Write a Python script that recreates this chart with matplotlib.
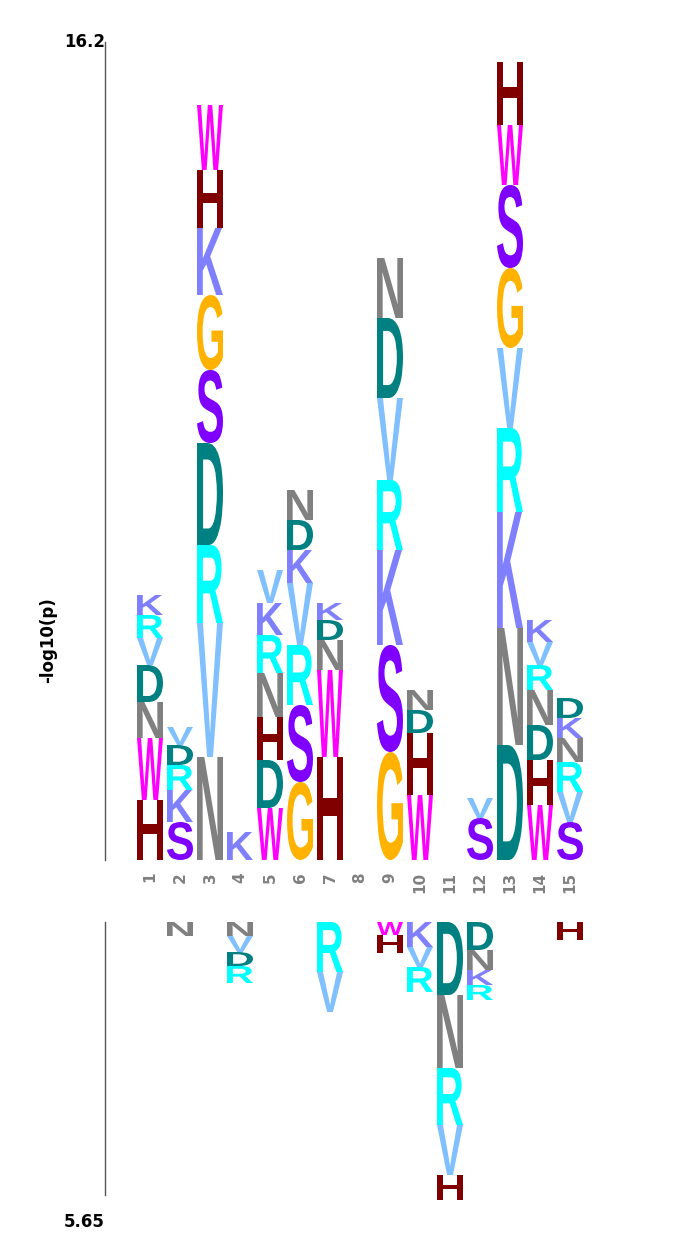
import matplotlib
matplotlib.use('Agg')
import matplotlib.pyplot as plt
from matplotlib.textpath import TextPath
from matplotlib.font_manager import FontProperties
from matplotlib.patches import PathPatch
from matplotlib.transforms import Affine2D

# letter stacks per position, (letter, height), enriched from the baseline upward
upper = {
    1: [('H', 60), ('W', 62), ('N', 36), ('D', 37), ('V', 27), ('R', 23), ('K', 20)],
    2: [('S', 38), ('K', 32), ('R', 25), ('D', 20), ('V', 18)],
    3: [('N', 103), ('V', 134), ('R', 78), ('D', 102), ('S', 73), ('G', 75), ('K', 67), ('H', 58), ('W', 65)],
    4: [('K', 28)],
    5: [('W', 52), ('D', 48), ('H', 43), ('N', 44), ('R', 38), ('K', 32), ('V', 33)],
    6: [('G', 78), ('S', 77), ('R', 60), ('V', 62), ('K', 33), ('D', 30), ('N', 30)],
    7: [('H', 103), ('W', 87), ('N', 30), ('D', 20), ('K', 17)],
    8: [],
    9: [('G', 108), ('S', 107), ('K', 95), ('R', 70), ('V', 82), ('D', 80), ('N', 60)],
    10: [('W', 65), ('H', 62), ('D', 23), ('N', 20)],
    11: [],
    12: [('S', 42), ('V', 20)],
    13: [('D', 115), ('N', 117), ('K', 116), ('R', 84), ('V', 80), ('G', 80), ('S', 83), ('W', 60), ('H', 63)],
    14: [('W', 55), ('H', 45), ('D', 35), ('N', 35), ('R', 25), ('V', 23), ('K', 22)],
    15: [('S', 38), ('V', 30), ('R', 30), ('N', 24), ('K', 20), ('D', 20)],
}
# depleted letters, from the baseline downward
lower = {
    2: [('N', 14)],
    4: [('N', 14), ('V', 16), ('D', 14), ('R', 17)],
    7: [('R', 50), ('V', 40)],
    9: [('W', 13), ('H', 18)],
    10: [('K', 25), ('V', 20), ('R', 25)],
    11: [('D', 73), ('N', 73), ('R', 57), ('V', 50), ('H', 25)],
    12: [('D', 28), ('N', 20), ('K', 15), ('R', 15)],
    15: [('H', 18)],
}

colors = {'K': '#8080FF', 'R': '#00FFFF', 'V': '#80C0FF', 'D': '#008080',
          'N': '#808080', 'W': '#FF00FF', 'H': '#800000', 'S': '#8000FF',
          'G': '#FFB300'}

fp = FontProperties(family='Liberation Sans', weight='bold')

fig = plt.figure(figsize=(6.75, 12.6), dpi=100)
ax = fig.add_axes([0, 0, 1, 1])
ax.set_xlim(0, 675)
ax.set_ylim(1260, 0)
ax.axis('off')


def draw_letter(ch, xc, ytop, h, w=26):
    tp = TextPath((0, 0), ch, size=1, prop=fp)
    bb = tp.get_extents()
    tr = Affine2D().translate(-bb.x0, -bb.y1).scale(w / bb.width, -h / bb.height).translate(xc - w / 2, ytop)
    ax.add_patch(PathPatch(tr.transform_path(tp), fc=colors[ch], ec='none'))


base_up = 860
base_dn = 922
for pos in range(1, 16):
    xc = 150 + 30 * (pos - 1)
    y = base_up
    for ch, h in upper.get(pos, []):
        draw_letter(ch, xc, y - h, h)
        y -= h
    y = base_dn
    for ch, h in lower.get(pos, []):
        draw_letter(ch, xc, y, h)
        y += h
    ax.text(xc, 872, str(pos), rotation=90, ha='center', va='top',
            color='#808080', fontsize=11, fontweight='bold')

ax.plot([105, 105], [42, 860], color='#555555', lw=1)
ax.plot([105, 105], [922, 1195], color='#555555', lw=1)
ax.text(105, 42, '16.2', ha='right', va='center', fontsize=12, fontweight='bold')
ax.text(105, 1222, '5.65', ha='right', va='center', fontsize=12, fontweight='bold')
ax.text(48, 640, '-log10(p)', rotation=90, ha='center', va='center', fontsize=12, fontweight='bold')

fig.savefig('out.png', dpi=100)
